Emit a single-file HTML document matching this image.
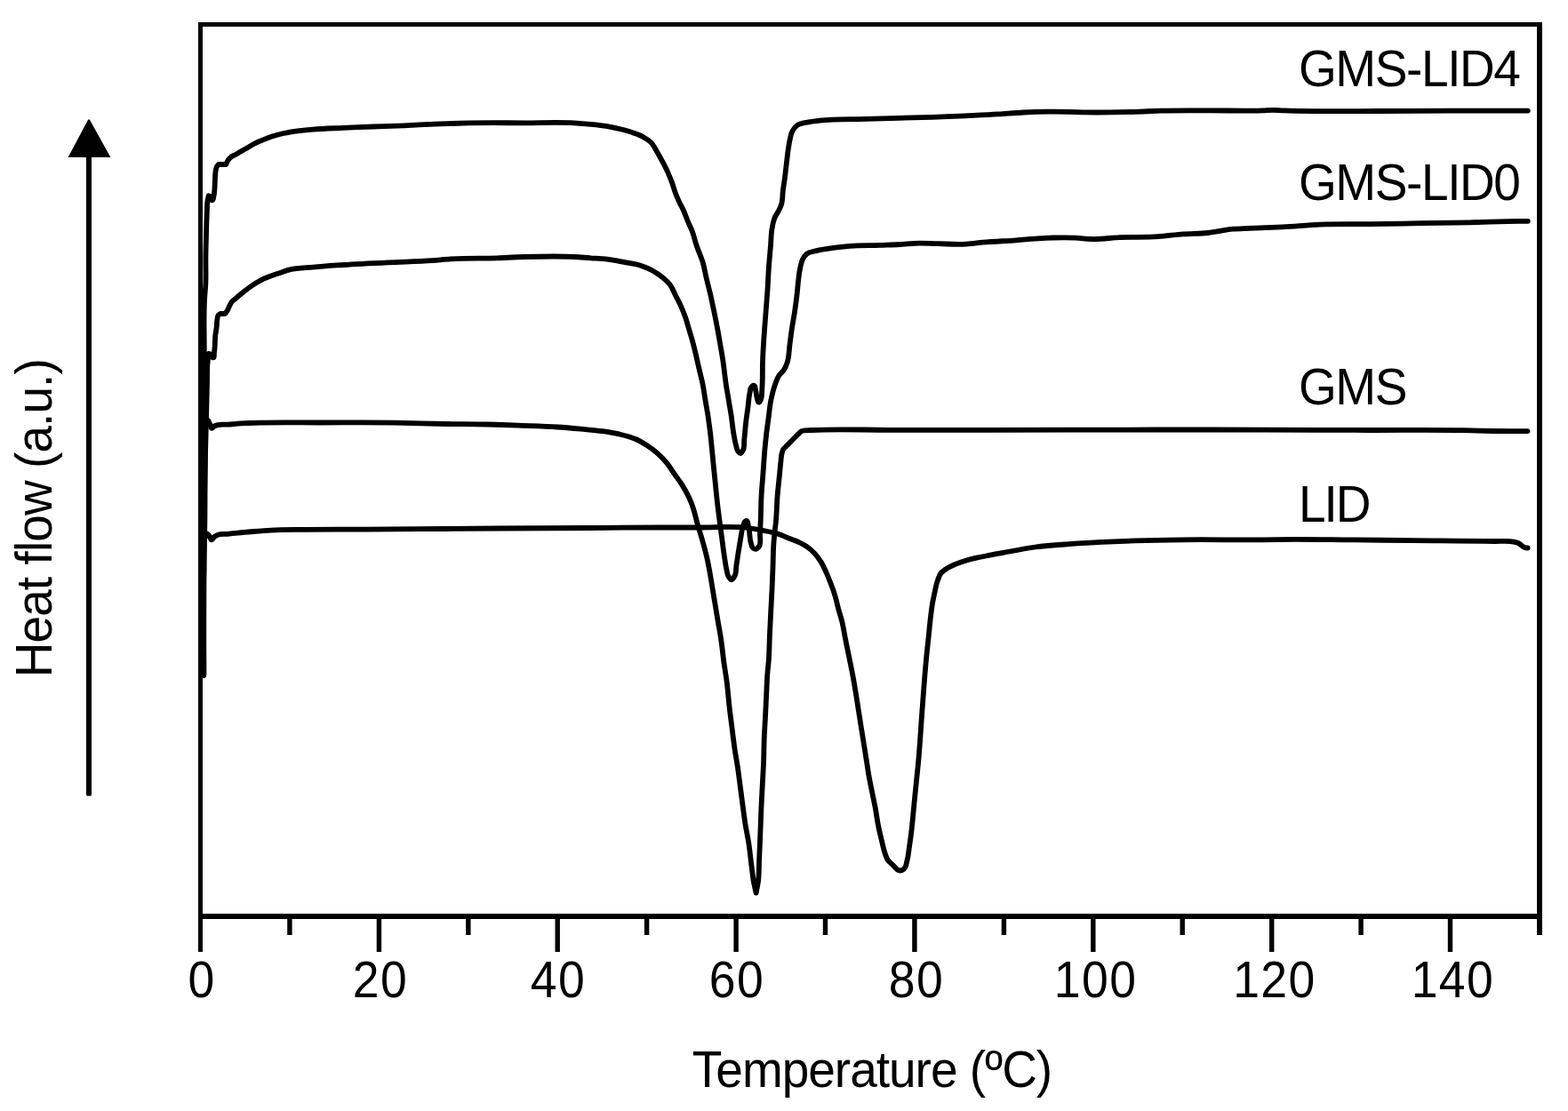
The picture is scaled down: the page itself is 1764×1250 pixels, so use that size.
<!DOCTYPE html>
<html lang="en">
<head>
<meta charset="utf-8">
<title>Heat flow versus temperature</title>
<style>
html, body { margin: 0; padding: 0; background: #ffffff; }
body { width: 1764px; height: 1250px; overflow: hidden; }
svg { display: block; }
text { font-family: "Liberation Sans", sans-serif; fill: #000; }
.curve { fill: none; stroke: #000; stroke-width: 5.8; stroke-linejoin: round; stroke-linecap: round; }
.lab { font-size: 55px; letter-spacing: -1.4px; }
.tick { font-size: 53.5px; letter-spacing: -1px; }
</style>
</head>
<body>
<svg width="1764" height="1250" viewBox="0 0 1764 1250">
<rect x="0" y="0" width="1764" height="1250" fill="#ffffff"/>
<g fill="#000">
<rect x="223" y="25" width="1512" height="5"/>
<rect x="223" y="25" width="5" height="1046"/>
<rect x="1729" y="25" width="6" height="1027"/>
<rect x="223" y="1028" width="1512" height="6"/>
<rect x="323.2" y="1031" width="5.4" height="21"/>
<rect x="423.7" y="1031" width="5.4" height="40"/>
<rect x="524.1" y="1031" width="5.4" height="21"/>
<rect x="624.5" y="1031" width="5.4" height="40"/>
<rect x="724.9" y="1031" width="5.4" height="21"/>
<rect x="825.4" y="1031" width="5.4" height="40"/>
<rect x="925.8" y="1031" width="5.4" height="21"/>
<rect x="1026.2" y="1031" width="5.4" height="40"/>
<rect x="1126.7" y="1031" width="5.4" height="21"/>
<rect x="1227.1" y="1031" width="5.4" height="40"/>
<rect x="1327.5" y="1031" width="5.4" height="21"/>
<rect x="1428.0" y="1031" width="5.4" height="40"/>
<rect x="1528.4" y="1031" width="5.4" height="21"/>
<rect x="1628.8" y="1031" width="5.4" height="40"/>
<rect x="97" y="170" width="6" height="725.6" rx="1.5"/>
<polygon points="99.2,134.4 100.8,134.4 124.4,176.9 76.6,176.9"/>
</g>
<path class="curve" d="M229.2,759.5 C229.2,719.7 228.5,679.8 229.3,640.0 C229.5,628.7 226.3,616.7 230.2,606.0 C230.9,604.1 231.8,602.3 232.6,600.4 C233.7,601.4 235.1,602.3 236.0,603.5 C236.9,604.7 236.6,607.2 238.0,607.4 C239.5,607.6 239.8,604.9 241.0,604.0 C242.2,603.0 243.6,602.4 245.0,601.8 C248.4,600.4 252.3,601.2 255.9,600.8 C259.7,600.4 263.6,600.0 267.4,599.6 C273.3,599.0 279.1,598.5 285.0,598.0 C291.6,597.5 298.2,597.0 304.8,596.6 C317.3,595.9 329.8,596.0 342.3,595.8 C365.4,595.5 388.4,595.7 411.5,595.6 C441.0,595.5 470.5,595.2 500.0,595.0 C520.0,594.8 540.0,594.6 560.0,594.5 C594.3,594.3 628.5,594.2 662.8,594.0 C675.2,593.9 687.6,593.8 700.0,593.7 C728.9,593.5 757.7,593.4 786.6,593.5 C805.0,593.6 823.5,591.5 841.7,594.0 C846.9,594.7 852.1,595.7 857.2,596.7 C863.1,597.8 869.0,598.7 874.7,600.5 C879.0,601.9 883.0,603.8 887.2,605.5 C891.3,607.2 895.6,608.5 899.6,610.5 C902.3,611.8 905.0,613.2 907.5,614.9 C910.7,617.1 913.6,619.6 916.2,622.4 C919.1,625.4 921.5,628.9 923.7,632.4 C926.2,636.3 928.0,640.7 929.9,644.9 C931.7,649.0 933.3,653.1 934.9,657.3 C936.5,661.4 938.0,665.6 939.3,669.8 C940.8,674.7 941.8,679.8 943.1,684.8 C944.5,689.8 946.2,694.7 947.4,699.8 C948.7,705.1 949.5,710.6 950.5,716.0 C953.4,731.1 956.8,746.1 959.6,761.2 C963.4,782.0 966.3,802.9 969.7,823.8 C971.6,835.9 973.6,847.9 975.5,860.0 C976.1,864.2 976.7,868.3 977.4,872.5 C978.5,878.8 979.9,885.0 981.1,891.2 C982.4,897.4 983.7,903.6 984.9,909.9 C986.0,916.1 986.8,922.4 988.0,928.6 C989.1,934.1 990.4,939.5 991.7,944.9 C992.9,949.9 993.8,955.0 995.5,959.8 C996.4,962.3 997.1,965.0 998.6,967.3 C1000.2,969.7 1002.7,971.5 1004.8,973.5 C1006.9,975.5 1008.4,978.5 1011.1,979.2 C1011.7,979.4 1012.3,979.5 1012.9,979.5 C1014.5,979.5 1016.1,978.4 1017.3,977.3 C1019.6,975.3 1019.6,971.6 1020.4,968.6 C1021.8,963.7 1022.1,958.6 1022.9,953.6 C1023.8,947.4 1024.7,941.1 1025.4,934.9 C1026.1,928.7 1026.7,922.4 1027.3,916.2 C1027.9,909.9 1028.5,903.7 1029.1,897.4 C1029.7,891.2 1030.4,884.9 1031.0,878.7 C1031.6,872.5 1032.3,866.2 1032.9,860.0 C1034.8,840.5 1035.8,820.9 1037.3,801.3 C1038.9,780.4 1040.2,759.5 1042.3,738.7 C1043.0,731.1 1043.9,723.6 1044.7,716.0 C1045.3,709.8 1045.9,703.5 1046.6,697.3 C1047.3,691.0 1048.0,684.7 1049.1,678.5 C1049.8,674.3 1050.7,670.2 1051.6,666.1 C1052.5,661.9 1053.3,657.6 1054.7,653.6 C1055.8,650.6 1056.5,647.4 1058.5,644.9 C1060.2,642.8 1062.5,641.4 1064.7,639.9 C1067.8,637.8 1071.3,636.4 1074.7,634.9 C1078.8,633.2 1083.0,631.8 1087.2,630.5 C1091.3,629.3 1095.5,628.3 1099.7,627.4 C1103.8,626.5 1108.0,625.7 1112.1,624.9 C1117.2,623.9 1122.3,623.0 1127.4,622.1 C1139.9,619.8 1152.2,617.2 1164.8,615.5 C1177.2,613.9 1189.8,613.1 1202.3,612.2 C1214.8,611.3 1227.2,610.5 1239.7,609.9 C1252.2,609.3 1264.6,608.8 1277.1,608.4 C1294.6,607.8 1312.0,607.5 1329.5,607.3 C1359.7,606.9 1389.8,607.6 1420.0,607.3 C1431.7,607.2 1443.3,606.9 1455.0,606.8 C1476.7,606.7 1498.3,607.2 1520.0,607.4 C1543.3,607.6 1566.7,607.9 1590.0,608.1 C1620.3,608.4 1650.7,608.3 1681.0,609.0 C1688.3,609.2 1695.9,608.0 1703.0,609.6 C1704.7,610.0 1706.4,610.2 1708.0,611.0 C1709.1,611.5 1710.0,612.3 1711.0,613.0 C1712.0,613.8 1712.9,614.8 1714.0,615.4 C1714.8,615.8 1715.6,616.2 1716.5,616.4 C1717.2,616.5 1718.0,616.5 1718.7,616.5"/>
<path class="curve" d="M229.2,759.5 C229.2,719.7 228.6,679.8 229.3,640.0 C229.5,626.7 229.9,613.3 230.2,600.0 C230.9,563.3 230.2,526.7 231.2,490.0 C231.3,485.3 229.1,480.0 231.6,476.0 C232.3,474.9 233.3,474.0 234.1,473.0 C234.9,474.7 235.7,476.4 236.5,478.0 C237.1,479.3 237.1,481.8 238.5,481.8 C239.6,481.8 240.0,480.1 241.0,479.5 C242.2,478.7 243.6,478.5 245.0,478.1 C248.7,477.1 252.7,477.9 256.5,477.6 C260.1,477.4 263.8,476.9 267.4,476.6 C271.7,476.3 276.0,476.2 280.3,476.0 C284.7,475.8 289.2,475.7 293.6,475.6 C315.7,475.0 337.9,475.5 360.0,475.5 C387.8,475.5 415.5,475.2 443.3,475.6 C463.3,475.9 483.2,476.7 503.2,477.0 C518.3,477.2 533.5,477.1 548.6,477.5 C559.8,477.8 571.1,478.2 582.3,478.6 C597.3,479.2 612.3,479.5 627.2,480.5 C635.9,481.1 644.7,481.9 653.4,482.7 C661.5,483.5 669.6,484.1 677.7,485.2 C684.0,486.1 690.2,487.0 696.4,488.4 C702.8,489.9 709.2,491.3 715.2,494.0 C719.8,496.0 724.0,498.7 728.2,501.4 C732.1,504.0 736.0,506.8 739.5,509.9 C743.2,513.2 746.7,516.8 749.9,520.6 C753.1,524.5 755.7,528.9 758.6,533.1 C761.5,537.3 764.7,541.3 767.4,545.6 C770.2,550.0 772.7,554.6 774.9,559.3 C776.8,563.4 778.5,567.5 779.9,571.8 C781.7,577.1 782.7,582.6 784.2,588.0 C786.0,594.3 788.0,600.4 789.8,606.7 C791.6,612.9 793.3,619.1 794.8,625.4 C796.3,631.6 797.4,637.9 798.6,644.2 C799.7,650.4 800.7,656.7 801.7,662.9 C802.7,669.1 803.8,675.4 804.8,681.6 C805.8,687.8 806.9,694.1 807.9,700.3 C809.0,706.5 810.2,712.7 811.1,719.0 C812.4,727.3 813.1,735.7 814.2,744.0 C815.3,752.3 816.9,760.6 817.9,769.0 C818.9,777.3 819.5,785.6 820.4,793.9 C821.3,802.2 822.4,810.6 823.5,818.9 C824.5,827.2 825.5,835.5 826.7,843.8 C827.6,850.0 828.9,856.3 829.8,862.5 C830.7,868.8 831.5,875.0 832.3,881.3 C833.3,889.2 834.3,897.1 835.4,905.0 C836.4,912.5 837.3,920.0 838.5,927.4 C839.6,934.5 841.2,941.5 842.3,948.6 C843.6,956.9 844.3,965.3 845.4,973.6 C846.2,979.8 846.8,986.1 847.9,992.3 C848.7,996.4 849.7,1000.5 850.6,1004.6 C851.4,1000.5 852.3,996.4 852.9,992.3 C854.1,984.0 853.7,975.6 854.1,967.3 C854.6,956.9 855.0,946.6 855.4,936.2 C855.8,925.8 856.1,915.4 856.6,905.0 C857.0,896.7 857.5,888.3 857.9,880.0 C858.3,872.1 858.8,864.2 859.1,856.3 C859.4,848.0 859.4,839.6 859.7,831.3 C860.0,823.0 860.6,814.7 861.0,806.4 C861.4,798.1 861.8,789.7 862.2,781.4 C862.6,773.1 862.8,764.8 863.5,756.5 C863.8,752.3 864.4,748.2 864.7,744.0 C865.5,733.6 865.5,723.2 866.0,712.8 C866.4,704.5 866.8,696.1 867.2,687.8 C867.6,679.5 868.1,671.2 868.5,662.9 C868.9,654.6 869.2,646.2 869.5,637.9 C869.8,629.6 869.8,621.3 870.3,613.0 C870.6,608.0 871.1,603.0 871.6,598.0 C872.0,594.7 872.4,591.3 872.8,588.0 C873.9,577.6 873.8,567.2 874.7,556.8 C875.4,548.5 876.4,540.1 877.2,531.8 C877.6,527.7 877.9,523.5 878.4,519.4 C878.8,516.1 878.8,512.8 879.7,509.6 C880.2,508.1 880.5,506.5 881.4,505.2 C882.0,504.3 882.9,503.7 883.6,502.9 C886.2,500.2 888.9,497.6 891.5,495.0 C894.2,492.3 896.7,489.5 899.5,487.0 C900.2,486.4 900.8,485.6 901.6,485.2 C902.6,484.7 903.7,484.6 904.8,484.4 C907.1,484.0 909.5,484.1 911.8,484.0 C941.2,482.4 970.6,483.8 1000.0,483.8 C1037.3,483.8 1074.7,483.8 1112.0,483.8 C1174.7,483.8 1237.3,483.5 1300.0,483.5 C1341.3,483.5 1382.7,483.5 1424.0,483.6 C1462.7,483.7 1501.3,483.9 1540.0,484.0 C1575.7,484.1 1611.3,483.5 1647.0,484.2 C1658.0,484.4 1669.0,484.8 1680.0,485.0 C1692.8,485.2 1705.7,485.1 1718.5,485.1"/>
<path class="curve" d="M229.2,759.5 C229.2,719.7 229.1,679.8 229.3,640.0 C229.4,613.3 229.6,586.7 230.0,560.0 C230.5,525.3 231.6,490.7 232.4,456.0 C232.6,447.3 232.8,438.7 233.0,430.0 C233.1,423.3 232.9,416.7 233.4,410.0 C233.7,406.0 234.2,402.0 234.6,398.0 C235.4,398.2 236.3,398.2 237.0,398.6 C238.3,399.3 238.0,402.1 239.5,402.4 C241.6,402.8 240.6,398.3 241.0,396.2 C241.3,394.3 241.4,392.4 241.6,390.5 C242.0,386.3 241.8,382.1 242.2,378.0 C242.5,374.8 243.2,371.7 243.6,368.6 C244.0,365.5 243.8,362.4 244.4,359.3 C244.7,357.7 244.6,355.8 245.6,354.6 C246.2,353.9 247.1,353.5 247.8,353.0 L253.2,353.0 C254.1,351.8 255.1,350.6 255.9,349.3 C257.0,347.5 257.4,345.5 258.4,343.7 C259.3,342.0 260.2,340.2 261.5,338.7 C262.8,337.3 264.5,336.4 265.9,335.2 C268.0,333.5 270.0,331.6 272.1,329.9 C274.2,328.2 276.3,326.6 278.4,325.0 C280.4,323.5 282.5,322.0 284.6,320.6 C286.7,319.3 288.8,318.0 290.9,316.8 C292.9,315.6 295.0,314.4 297.1,313.4 C299.1,312.5 301.2,311.8 303.3,311.0 C305.4,310.2 307.5,309.4 309.6,308.7 C311.7,308.0 313.7,307.4 315.8,306.7 C319.2,305.6 322.5,304.3 326.0,303.4 C334.5,301.2 343.5,301.4 352.3,300.6 C363.7,299.5 375.0,298.8 386.4,298.0 C403.4,296.9 420.5,296.1 437.5,295.3 C453.9,294.5 470.4,294.3 486.8,293.1 C493.6,292.6 500.5,291.8 507.3,291.4 C524.7,290.3 542.2,290.9 559.7,290.3 C569.7,289.9 579.7,289.3 589.7,289.0 C608.4,288.5 627.1,288.0 645.8,289.0 C652.0,289.3 658.3,289.9 664.5,290.3 C670.7,290.7 677.0,290.8 683.2,291.6 C689.5,292.4 695.7,293.7 701.9,294.9 C708.1,296.1 714.6,296.7 720.6,298.7 C725.1,300.2 729.5,302.0 733.7,304.3 C737.6,306.5 741.4,309.0 744.9,311.8 C748.3,314.6 751.7,317.5 754.3,321.1 C756.7,324.5 758.0,328.5 759.9,332.2 C762.0,336.3 764.2,340.4 766.1,344.6 C767.9,348.7 769.6,352.9 771.1,357.1 C772.5,361.2 773.6,365.4 774.9,369.6 C776.1,373.8 777.4,377.9 778.6,382.1 C780.0,387.0 781.2,392.0 782.4,397.0 C783.7,402.4 784.8,407.9 786.1,413.3 C787.5,419.5 789.2,425.7 790.5,432.0 C791.7,438.2 792.6,444.5 793.6,450.7 C794.6,456.9 795.8,463.2 796.7,469.4 C797.6,475.7 798.5,481.9 799.2,488.2 C799.9,494.4 800.5,500.7 801.1,506.9 C801.7,513.1 802.3,519.4 802.9,525.6 C803.5,531.8 804.2,538.1 804.8,544.3 C805.4,550.5 806.0,556.8 806.7,563.0 C807.6,571.3 808.7,579.7 809.8,588.0 C810.6,594.2 811.5,600.5 812.3,606.7 C813.1,612.9 813.9,619.2 814.8,625.4 C815.6,630.4 816.1,635.5 817.3,640.4 C818.0,643.3 818.1,646.6 819.8,649.1 C820.7,650.3 821.4,652.3 822.9,652.3 C824.4,652.3 825.1,650.3 826.0,649.1 C828.7,645.3 827.7,640.0 828.5,635.4 C829.4,630.0 830.1,624.6 831.0,619.2 C831.8,614.2 832.6,609.2 833.5,604.2 C834.3,600.0 834.4,595.6 836.0,591.7 C836.8,589.7 837.0,586.5 839.1,586.0 C841.9,585.3 841.5,591.4 842.3,594.2 C843.9,599.5 843.0,605.3 844.7,610.5 C845.4,612.6 845.4,615.4 847.2,616.7 C848.1,617.4 849.3,618.0 850.4,617.9 C851.7,617.8 852.6,616.5 853.5,615.5 C856.9,611.8 854.6,605.5 855.0,600.5 C855.3,596.3 855.4,592.2 855.6,588.0 C856.1,577.6 856.0,567.2 856.6,556.8 C857.1,548.5 857.9,540.1 858.5,531.8 C859.1,523.5 859.6,515.2 860.3,506.9 C860.9,500.7 861.5,494.4 862.2,488.2 C862.9,481.9 863.9,475.7 864.7,469.4 C865.5,463.2 866.0,456.9 867.2,450.7 C868.5,444.4 870.0,438.1 872.2,432.0 C873.3,429.0 874.2,425.9 875.9,423.2 C877.6,420.4 880.5,418.6 882.2,415.8 C883.9,413.1 884.9,410.0 885.9,407.0 C887.8,401.0 887.6,394.5 888.4,388.3 C889.2,382.1 890.0,375.8 890.9,369.6 C891.8,363.4 893.1,357.1 894.0,350.9 C894.9,344.7 895.8,338.4 896.5,332.2 C897.2,325.9 897.6,319.6 898.4,313.4 C898.9,309.3 899.3,305.1 900.3,301.0 C901.1,297.6 901.6,294.0 903.4,291.0 C904.5,289.1 905.8,287.2 907.5,285.8 C910.5,283.3 914.9,283.1 918.7,282.1 C924.8,280.5 931.1,279.8 937.4,278.9 C943.6,278.0 949.9,277.4 956.1,276.9 C967.3,276.0 978.6,276.3 989.8,275.9 C997.3,275.6 1004.8,275.4 1012.3,275.0 C1019.8,274.6 1027.2,273.8 1034.7,273.7 C1041.6,273.6 1048.4,274.1 1055.3,274.2 C1065.9,274.4 1076.5,275.2 1087.1,274.6 C1093.4,274.2 1099.6,273.3 1105.8,272.7 C1118.2,271.6 1130.7,271.2 1143.2,270.3 C1152.6,269.6 1161.9,268.6 1171.3,268.1 C1175.7,267.9 1180.0,267.6 1184.4,267.5 C1192.9,267.3 1201.5,267.2 1210.0,267.6 C1216.0,267.9 1222.0,268.8 1228.0,269.0 C1238.6,269.3 1249.3,267.6 1259.9,267.1 C1274.2,266.5 1288.6,267.2 1302.9,266.2 C1312.3,265.6 1321.6,264.1 1331.0,263.4 C1340.3,262.7 1349.7,262.9 1359.0,262.0 C1368.4,261.0 1377.7,258.5 1387.1,257.7 C1393.3,257.1 1399.6,257.1 1405.8,256.8 C1418.3,256.2 1430.7,255.9 1443.2,255.3 C1457.1,254.6 1470.9,253.3 1484.8,252.7 C1503.5,251.9 1522.3,252.4 1541.0,252.1 C1559.7,251.9 1578.4,251.5 1597.1,251.2 C1615.8,250.9 1634.5,250.7 1653.2,250.3 C1671.9,249.9 1690.6,249.1 1709.3,248.9 C1712.5,248.9 1715.6,248.8 1718.8,248.8"/>
<path class="curve" d="M229.2,759.5 C229.2,719.7 229.3,679.8 229.3,640.0 C229.4,560.0 229.4,480.0 229.8,400.0 C229.9,378.3 228.9,356.6 230.2,335.0 C230.5,330.0 231.1,325.0 231.3,320.0 C231.8,310.0 231.3,300.0 231.4,290.0 C231.5,281.3 231.8,272.7 232.0,264.0 C232.2,255.7 232.4,247.3 232.8,239.0 C233.0,234.3 232.7,229.6 233.6,225.0 C233.9,223.4 234.4,221.9 234.8,220.3 C235.5,220.5 236.4,220.6 237.0,221.0 C238.3,221.9 237.1,225.2 238.6,225.3 C240.2,225.4 240.0,222.5 240.4,221.0 C241.1,218.7 241.1,216.3 241.3,214.0 C241.6,211.0 241.6,208.0 241.8,205.0 C242.0,200.8 241.8,196.5 242.6,192.4 C242.9,190.8 243.0,189.0 243.8,187.6 C244.3,186.6 245.2,185.9 245.9,185.0 L254.2,185.0 C255.1,183.3 255.7,181.4 256.9,179.8 C257.7,178.7 258.7,177.7 259.7,176.8 C261.5,175.3 263.8,174.6 265.9,173.4 C268.0,172.2 270.0,171.0 272.1,169.8 C274.2,168.6 276.3,167.4 278.4,166.2 C280.5,165.0 282.5,163.6 284.6,162.5 C286.7,161.4 288.8,160.4 290.9,159.4 C292.9,158.5 295.0,157.7 297.1,156.9 C299.2,156.1 301.2,155.1 303.3,154.4 C305.4,153.7 307.5,153.1 309.6,152.5 C311.7,151.9 313.7,151.2 315.8,150.7 C319.2,149.8 322.6,149.3 326.0,148.7 C334.6,147.2 343.3,146.4 352.0,145.6 C363.3,144.6 374.7,144.4 386.0,143.9 C397.3,143.4 408.7,142.9 420.0,142.5 C431.5,142.1 443.0,141.8 454.5,141.3 C465.9,140.8 477.2,140.1 488.6,139.6 C501.7,139.1 514.8,138.7 527.9,138.4 C548.6,138.0 569.3,138.3 590.0,138.3 C608.6,138.3 627.2,137.3 645.8,138.4 C652.0,138.8 658.3,139.3 664.5,139.9 C670.7,140.5 677.0,141.1 683.2,142.2 C688.8,143.2 694.5,144.4 700.0,145.8 C704.2,146.9 708.4,148.0 712.5,149.5 C716.3,150.9 720.2,152.2 723.7,154.2 C726.8,155.9 729.9,157.7 732.4,160.2 C735.1,162.9 736.7,166.6 738.7,169.9 C740.9,173.6 742.9,177.3 744.9,181.1 C747.1,185.2 749.3,189.3 751.2,193.6 C753.0,197.7 754.7,201.9 756.2,206.1 C757.5,209.8 758.5,213.6 759.9,217.3 C761.0,220.3 762.3,223.2 763.6,226.1 C765.1,229.5 767.1,232.6 768.6,236.0 C770.5,240.1 771.9,244.4 773.6,248.5 C775.2,252.3 777.1,256.0 778.6,259.8 C780.6,265.1 781.7,270.7 783.5,276.0 C785.6,282.3 788.6,288.3 790.5,294.7 C792.3,300.8 793.3,307.2 794.8,313.4 C796.3,319.7 798.0,325.9 799.4,332.2 C800.8,338.4 802.1,344.7 803.4,350.9 C804.7,357.1 805.9,363.4 807.1,369.6 C808.3,375.8 809.3,382.1 810.4,388.3 C811.5,394.5 812.6,400.8 813.5,407.0 C814.7,415.3 815.5,423.7 816.7,432.0 C817.6,438.2 818.8,444.5 819.8,450.7 C820.8,456.9 822.0,463.2 822.9,469.4 C823.8,475.7 824.3,482.0 825.4,488.2 C826.1,492.4 826.8,496.5 827.9,500.6 C828.6,503.0 828.7,505.7 830.2,507.6 C831.0,508.5 831.7,510.0 832.9,510.0 C834.2,510.0 834.8,508.1 835.6,507.0 C838.0,503.5 836.8,498.6 837.3,494.4 C838.0,488.2 838.4,481.9 839.1,475.7 C839.8,469.5 840.8,463.2 841.6,457.0 C842.2,452.0 842.3,446.9 843.5,442.0 C844.1,439.6 843.8,436.7 845.6,435.0 C846.2,434.4 846.9,433.8 847.7,433.6 C849.8,433.2 849.6,437.5 850.2,439.5 C851.1,442.3 850.7,445.5 851.8,448.2 C852.4,449.7 852.5,453.0 854.1,452.6 C855.3,452.3 855.5,450.6 856.0,449.5 C857.4,446.5 856.9,442.8 857.2,439.5 C857.4,437.0 857.5,434.5 857.6,432.0 C858.0,423.7 857.7,415.3 858.0,407.0 C858.3,396.6 859.0,386.2 859.7,375.8 C860.3,367.5 861.0,359.2 861.6,350.9 C862.2,342.6 862.9,334.2 863.5,325.9 C864.0,317.6 864.3,309.3 864.9,301.0 C865.5,292.7 866.3,284.3 867.0,276.0 C867.5,269.8 867.4,263.5 868.5,257.3 C869.3,253.1 869.9,248.7 871.6,244.8 C872.7,242.2 874.6,239.9 875.9,237.3 C877.1,234.9 878.3,232.4 879.1,229.8 C880.7,224.6 880.2,219.0 880.9,213.6 C881.5,209.4 882.2,205.3 882.8,201.1 C883.5,195.7 884.1,190.3 884.7,184.9 C885.3,179.9 885.8,174.9 886.5,169.9 C887.1,165.7 887.7,161.5 888.6,157.4 C889.3,154.2 889.7,150.9 891.2,148.0 C892.6,145.4 894.4,142.8 896.8,141.0 C900.4,138.3 905.4,138.2 909.8,137.3 C913.8,136.5 917.9,136.2 922.0,135.7 C939.1,133.8 956.3,134.4 973.5,133.8 C998.5,133.0 1023.4,132.7 1048.4,131.8 C1060.9,131.4 1073.3,130.9 1085.8,130.3 C1098.3,129.7 1110.7,129.2 1123.2,128.4 C1132.6,127.8 1141.9,127.0 1151.3,126.5 C1160.6,126.0 1170.0,125.7 1179.3,125.6 C1187.0,125.5 1194.6,125.6 1202.3,125.8 C1208.5,125.9 1214.8,126.3 1221.0,126.4 C1230.3,126.6 1239.7,126.5 1249.0,126.4 C1258.4,126.3 1267.7,126.1 1277.1,125.8 C1286.5,125.5 1295.8,125.0 1305.2,124.7 C1323.5,124.2 1341.7,124.5 1360.0,124.4 C1380.0,124.3 1400.0,125.0 1420.0,124.3 C1424.0,124.2 1428.0,123.8 1432.0,123.8 C1436.0,123.8 1440.0,124.2 1444.0,124.3 C1456.0,124.7 1468.0,124.9 1480.0,125.1 C1503.3,125.4 1526.7,125.1 1550.0,125.0 C1576.7,124.9 1603.3,124.7 1630.0,124.7 C1646.7,124.7 1663.3,124.7 1680.0,124.7 C1692.9,124.7 1705.9,124.6 1718.8,124.6"/>
<g class="lab">
<text transform="translate(1461,96.8) scale(1,1.05)" text-anchor="start">GMS-LID4</text>
<text transform="translate(1461,224.8) scale(1,1.05)" text-anchor="start">GMS-LID0</text>
<text transform="translate(1461,454.8) scale(1,1.05)" text-anchor="start">GMS</text>
<text transform="translate(1461,587.2) scale(1,1.05)" text-anchor="start" style="letter-spacing:-2.0px">LID</text>
<text transform="translate(981,1223.2) scale(1,1.05)" text-anchor="middle" style="letter-spacing:-1.0px">Temperature (ºC)</text>
<text transform="translate(57.6,583.2) rotate(-90) scale(1,1.05)" text-anchor="middle" style="letter-spacing:-0.92px">Heat flow (a.u.)</text>
</g>
<g class="tick">
<text transform="translate(227.2,1121.8) scale(1,1.06)" text-anchor="middle" style="letter-spacing:1.5px">0</text>
<text transform="translate(427.9,1121.8) scale(1,1.06)" text-anchor="middle" style="letter-spacing:1.5px">20</text>
<text transform="translate(628.1,1121.8) scale(1,1.06)" text-anchor="middle" style="letter-spacing:1.5px">40</text>
<text transform="translate(829.1,1121.8) scale(1,1.06)" text-anchor="middle" style="letter-spacing:1.5px">60</text>
<text transform="translate(1031.0,1121.8) scale(1,1.06)" text-anchor="middle" style="letter-spacing:1.5px">80</text>
<text transform="translate(1232.7,1121.8) scale(1,1.06)" text-anchor="middle" style="letter-spacing:1.5px">100</text>
<text transform="translate(1434.0,1121.8) scale(1,1.06)" text-anchor="middle" style="letter-spacing:1.5px">120</text>
<text transform="translate(1634.5,1121.8) scale(1,1.06)" text-anchor="middle" style="letter-spacing:1.5px">140</text>
</g>
</svg>
</body>
</html>
